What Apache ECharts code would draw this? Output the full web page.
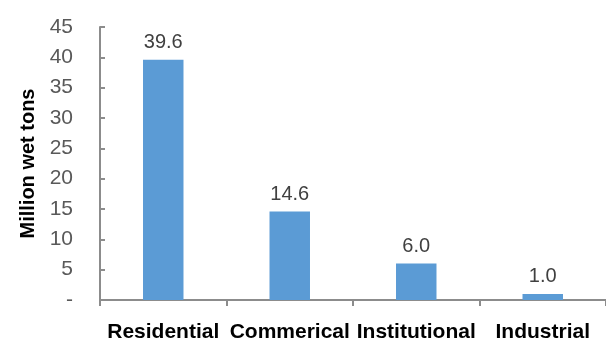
<!DOCTYPE html>
<html>
<head>
<meta charset="utf-8">
<style>
  html, body { margin: 0; padding: 0; background: #fff; }
  #chart { width: 606px; height: 343px; }
</style>
<script src="https://cdn.jsdelivr.net/npm/echarts@6/dist/echarts.min.js"></script>
</head>
<body>
<div id="chart"></div>
<script>
// Waste generation by sector, million wet tons
const categories = ['Residential', 'Commerical', 'Institutional', 'Industrial'];
const tonnage = [39.6, 14.6, 6.0, 1.0];

const axisGray = '#8c8c8c';
const fontFamily = '"Liberation Sans", Arial, sans-serif';

const chart = echarts.init(document.getElementById('chart'), null, { renderer: 'canvas' });
chart.setOption({
  animation: false,
  grid: { left: 100, top: 27, bottom: 43, width: 511, containLabel: false },
  xAxis: {
    type: 'category',
    data: categories,
    axisLine: { lineStyle: { color: axisGray, width: 2 } },
    axisTick: { show: true, inside: false, length: 6, lineStyle: { color: axisGray, width: 2 } },
    axisLabel: { color: '#000', fontWeight: 'bold', fontSize: 21, fontFamily, margin: 22, interval: 0 }
  },
  yAxis: {
    type: 'value',
    min: 0, max: 45, interval: 5,
    name: 'Million wet tons',
    nameLocation: 'middle',
    nameGap: 62,
    nameTextStyle: { color: '#000', fontWeight: 'bold', fontSize: 20, fontFamily },
    axisLine: { show: true, lineStyle: { color: axisGray, width: 2 } },
    axisTick: { show: true, inside: true, length: 5, lineStyle: { color: axisGray, width: 2 } },
    splitLine: { show: false },
    axisLabel: {
      color: '#595959', fontSize: 21, fontFamily, margin: 27,
      formatter: v => (v === 0 ? '-' : String(v))
    }
  },
  series: [{
    type: 'bar',
    data: tonnage,
    barWidth: '32%',
    itemStyle: { color: '#5B9BD5' },
    label: {
      show: true, position: 'top', distance: 7,
      color: '#404040', fontSize: 20, fontFamily,
      formatter: p => p.value.toFixed(1)
    }
  }]
});
</script>
</body>
</html>
